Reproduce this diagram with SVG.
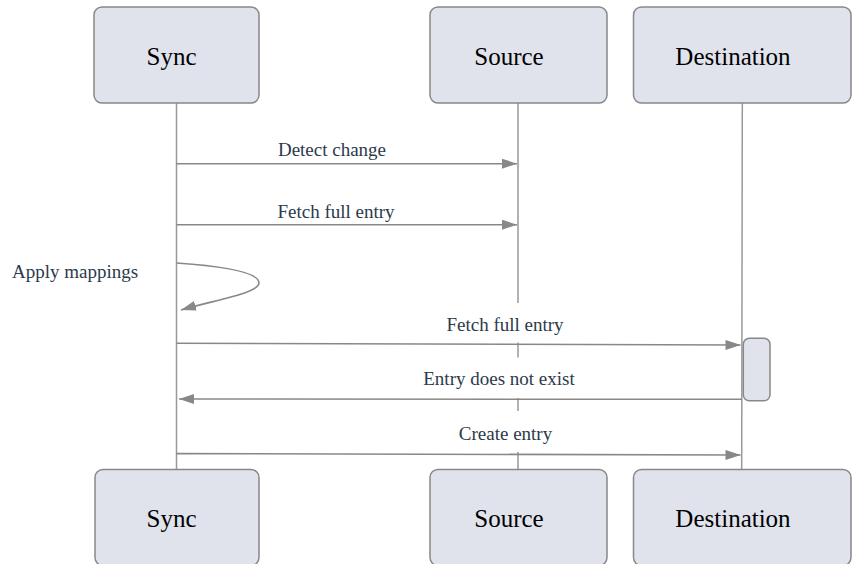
<svg xmlns="http://www.w3.org/2000/svg" width="853" height="564" viewBox="0 0 853 564">
<style>
.actor rect{fill:#e0e3ec;stroke:#888;stroke-width:1.5}
.actor text{font-family:"Liberation Serif","Times New Roman",serif;font-size:25px;fill:#000;text-anchor:middle}
.life{stroke:#999;stroke-width:1.5;fill:none}
.msg{stroke:#888;stroke-width:1.6;fill:none}
.lbl{font-family:"Liberation Serif","Times New Roman",serif;font-size:19px;fill:#2c3a4b;text-anchor:middle}
.lblbg{fill:#fff;stroke:none}
.act{fill:#e0e3ec;stroke:#888;stroke-width:1.5}
</style>
<defs>
<marker id="ah" markerUnits="userSpaceOnUse" markerWidth="15" markerHeight="10" refX="15" refY="5" orient="auto">
<path d="M0,0 L15,5 L0,10 z" fill="#888"/>
</marker>
</defs>
<rect width="853" height="564" fill="#fff"/>
<g id="lifelines">
<line class="life" x1="176.5" y1="103" x2="176.5" y2="470"/>
<line class="life" x1="518" y1="103" x2="518" y2="470"/>
<line class="life" x1="742.3" y1="103" x2="741.7" y2="470"/>
</g>
<g id="sync-top" class="actor"><rect x="94" y="7" width="165" height="96" rx="8"/><text x="171.5" y="64.5">Sync</text></g>
<g id="source-top" class="actor"><rect x="430" y="7" width="177" height="96" rx="8"/><text x="509" y="64.5">Source</text></g>
<g id="destination-top" class="actor"><rect x="633.5" y="7" width="217.5" height="96" rx="8"/><text x="733" y="64.5">Destination</text></g>
<g id="sync-bottom" class="actor"><rect x="95" y="469.5" width="164" height="96" rx="8"/><text x="171.5" y="527">Sync</text></g>
<g id="source-bottom" class="actor"><rect x="430" y="469.5" width="177" height="96" rx="8"/><text x="509" y="527">Source</text></g>
<g id="destination-bottom" class="actor"><rect x="633.5" y="469.5" width="217.5" height="96" rx="8"/><text x="733" y="527">Destination</text></g>
<g id="activation"><rect class="act" x="743.3" y="338.3" width="26.7" height="62.4" rx="6"/></g>
<g id="connectors">
<line class="msg" x1="176.5" y1="163.7" x2="517" y2="163.7" marker-end="url(#ah)"/>
<line class="msg" x1="176.5" y1="224.7" x2="517" y2="224.7" marker-end="url(#ah)"/>
<path class="msg" d="M176.5,263 C220,266 259,272 259,283 C259,293 215,300 181,310" marker-end="url(#ah)"/>
<line class="msg" x1="176.5" y1="343.3" x2="740.5" y2="345" marker-end="url(#ah)"/>
<line class="msg" x1="742" y1="399.3" x2="179" y2="399" marker-end="url(#ah)"/>
<line class="msg" x1="176.5" y1="453.6" x2="740.5" y2="455" marker-end="url(#ah)"/>
</g>
<g id="labels">
<rect class="lblbg" x="276" y="142" width="112" height="19"/>
<text class="lbl" x="332" y="156">Detect change</text>
<rect class="lblbg" x="276" y="204" width="120" height="19"/>
<text class="lbl" x="336" y="218.3">Fetch full entry</text>
<text class="lbl" x="12" y="278" style="text-anchor:start">Apply mappings</text>
<rect class="lblbg" x="444" y="303" width="122" height="39.5"/>
<text class="lbl" x="505" y="331">Fetch full entry</text>
<rect class="lblbg" x="421" y="357.5" width="156" height="40.5"/>
<text class="lbl" x="499" y="385.3">Entry does not exist</text>
<rect class="lblbg" x="457" y="411" width="97" height="41"/>
<text class="lbl" x="505.5" y="440.3">Create entry</text>
</g>
</svg>
